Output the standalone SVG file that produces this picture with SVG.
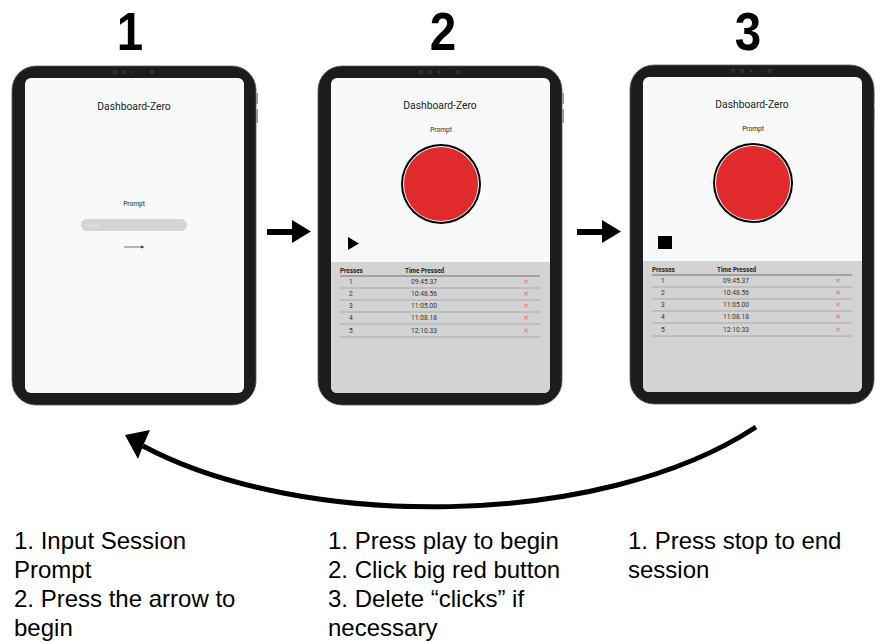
<svg xmlns="http://www.w3.org/2000/svg" xmlns:xlink="http://www.w3.org/1999/xlink" width="875" height="643" viewBox="0 0 875 643">
<style>
.num{font-family:"Liberation Sans",Arial,sans-serif;font-weight:bold;font-size:54px;fill:#000;text-anchor:middle}
.cap{font-family:"Liberation Sans",Arial,sans-serif;font-size:24px;fill:#000}
.title{font-family:Roboto,"Liberation Sans",sans-serif;font-size:10.3px;fill:#222;text-anchor:middle}
.prompt{font-family:Roboto,"Liberation Sans",sans-serif;font-size:6.6px;fill:#222;text-anchor:middle}
.th{font-family:Roboto,"Liberation Sans",sans-serif;font-size:6.3px;font-weight:bold;fill:#222}
.td{font-family:Roboto,"Liberation Sans",sans-serif;font-size:6.7px;fill:#333;text-anchor:middle}
.del{font-family:"DejaVu Sans",sans-serif;font-size:7.5px;fill:#e06a6a;text-anchor:middle}
.rl{stroke:#999;stroke-width:0.7}
.bezel{fill:#1c1c1c;stroke:#5a5a5a;stroke-width:0.8}
.screen{fill:#f8f9f9}
.panel{fill:#d3d3d3}
.conn{fill:none;stroke:#000}
</style>
<defs>
<g id="frame">
<rect class="bezel" x="0" y="0" width="244" height="339" rx="24"/>
<rect x="244" y="27" width="2" height="11" fill="#9a9a9a"/>
<rect x="244" y="43" width="2" height="14" fill="#9a9a9a"/>
<rect class="screen" x="13" y="12" width="219" height="315" rx="6"/>
<circle cx="103" cy="6" r="2.3" fill="#2e2e2e"/>
<circle cx="112" cy="6" r="2.3" fill="#2e2e2e"/>
<circle cx="121" cy="6" r="1" fill="#2c4a80"/>
<circle cx="131" cy="6" r="0.8" fill="#2e2e2e"/>
<circle cx="140" cy="6" r="2.3" fill="#2e2e2e"/>
</g>
<g id="record">
<text class="title" x="122" y="43">Dashboard-Zero</text>
<text class="prompt" x="123" y="66">Prompt</text>
<circle cx="123" cy="118" r="40" fill="#000"/>
<circle cx="123" cy="118" r="38" fill="#fff"/>
<circle cx="123" cy="118" r="37" fill="#e02a2b"/>
<path class="panel" d="M13,196 H232 V321 A6,6 0 0 1 226,327 H19 A6,6 0 0 1 13,321 Z"/>
<text class="th" x="22" y="207">Presses</text>
<text class="th" x="87" y="207">Time Pressed</text>
<line x1="22" y1="210" x2="222" y2="210" stroke="#555" stroke-width="0.8"/>
<text class="td" x="33" y="218">1</text><text class="td" x="106" y="218">09:45.37</text><text class="del" x="208" y="218">×</text>
<line class="rl" x1="22" y1="222" x2="222" y2="222"/>
<text class="td" x="33" y="230">2</text><text class="td" x="106" y="230">10:48.56</text><text class="del" x="208" y="230">×</text>
<line class="rl" x1="22" y1="234" x2="222" y2="234"/>
<text class="td" x="33" y="242">3</text><text class="td" x="106" y="242">11:05.00</text><text class="del" x="208" y="242">×</text>
<line class="rl" x1="22" y1="246" x2="222" y2="246"/>
<text class="td" x="33" y="254">4</text><text class="td" x="106" y="254">11:08.18</text><text class="del" x="208" y="254">×</text>
<line class="rl" x1="22" y1="258" x2="222" y2="258"/>
<text class="td" x="33" y="267">5</text><text class="td" x="106" y="267">12:10.33</text><text class="del" x="208" y="267">×</text>
<line class="rl" x1="22" y1="271" x2="222" y2="271"/>
</g>
</defs>

<g id="step-numbers">
<text class="num" transform="translate(130,50) scale(0.88,1)">1</text>
<text class="num" transform="translate(443,50) scale(0.88,1)">2</text>
<text class="num" transform="translate(748,50) scale(0.88,1)">3</text>
</g>

<g id="tablet-1" transform="translate(12,66)">
<use xlink:href="#frame"/>
<text class="title" x="122" y="44">Dashboard-Zero</text>
<text class="prompt" x="122" y="140">Prompt</text>
<rect x="69" y="153" width="106" height="12" rx="6" fill="#d4d4d4"/>
<text x="73" y="161" font-family="Roboto,sans-serif" font-size="4" fill="#eeeeee">123456</text>
<line x1="112" y1="181" x2="130" y2="181" stroke="#333" stroke-width="0.7"/>
<path d="M129,179.5 L132.5,181 L129,182.5 Z" fill="#333"/>
</g>

<g id="tablet-2" transform="translate(318,66)">
<use xlink:href="#frame"/>
<use xlink:href="#record"/>
<path d="M30,171 L30,184 L41,177.5 Z" fill="#000"/>
</g>

<g id="tablet-3" transform="translate(630,65)">
<use xlink:href="#frame"/>
<use xlink:href="#record"/>
<rect x="28" y="171" width="14" height="13" fill="#000"/>
</g>

<g id="connectors">
<line class="conn" x1="267" y1="232" x2="294" y2="232" stroke-width="6"/>
<path d="M292,220 L311,231.5 L292,243 Z" fill="#000"/>
<line class="conn" x1="577" y1="232" x2="604" y2="232" stroke-width="6"/>
<path d="M602,220 L621,231.5 L602,243 Z" fill="#000"/>
<path class="conn" d="M756,427 C600,530 300,530 143,446" stroke-width="5"/>
<path d="M125,435 L150,430 L143,446 L138,459 Z" fill="#000"/>
</g>

<g id="captions">
<text class="cap" x="14" y="549">1. Input Session</text>
<text class="cap" x="14" y="578">Prompt</text>
<text class="cap" x="14" y="607">2. Press the arrow to</text>
<text class="cap" x="14" y="636">begin</text>
<text class="cap" x="328" y="549">1. Press play to begin</text>
<text class="cap" x="328" y="578">2. Click big red button</text>
<text class="cap" x="328" y="607">3. Delete “clicks” if</text>
<text class="cap" x="328" y="636">necessary</text>
<text class="cap" x="628" y="549">1. Press stop to end</text>
<text class="cap" x="628" y="578">session</text>
</g>
</svg>
